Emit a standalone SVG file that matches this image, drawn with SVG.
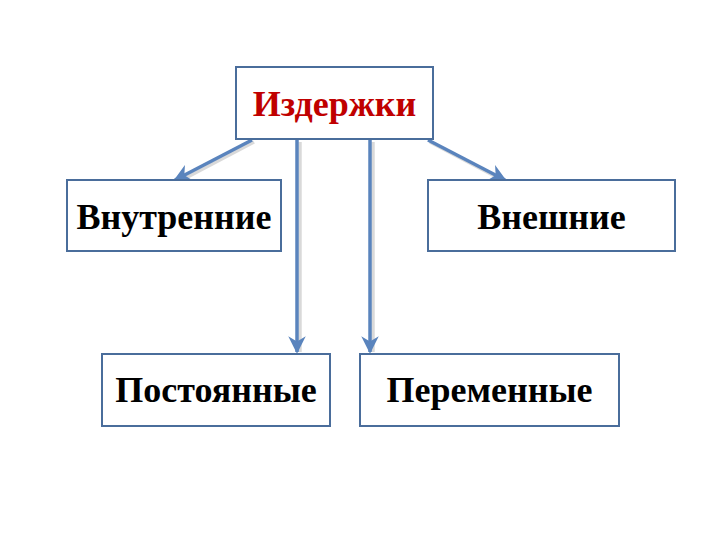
<svg xmlns="http://www.w3.org/2000/svg" width="720" height="540" viewBox="0 0 720 540">
<style>
.box{fill:#fff;stroke:#4a6d9b;stroke-width:2}
.t{font-family:"Liberation Serif","Times New Roman",serif;font-weight:bold;font-size:36px;text-anchor:middle;fill:#000}
.red{fill:#c00000}
.c{stroke:#5a84bd;stroke-width:3.5;fill:none;marker-end:url(#ah)}
.s{stroke:#bfbfbf;stroke-width:3.5;fill:none;opacity:0.6}
</style>
<defs>
<marker id="ah" viewBox="0 0 10 10" refX="9" refY="5" markerWidth="5" markerHeight="5" orient="auto" markerUnits="strokeWidth">
<path d="M0,0 L10,5 L0,10 L3,5 Z" fill="#5a84bd"/>
</marker>
</defs>
<g id="connectors">
<line class="s" x1="254" y1="142" x2="178" y2="182"/>
<line class="s" x1="300" y1="142" x2="300" y2="352"/>
<line class="s" x1="373" y1="142" x2="373" y2="352"/>
<line class="s" x1="430" y1="142" x2="506" y2="182"/>
<line class="c" x1="252" y1="140" x2="175" y2="180"/>
<line class="c" x1="297" y1="140" x2="297" y2="352"/>
<line class="c" x1="370" y1="140" x2="370" y2="352"/>
<line class="c" x1="428" y1="140" x2="505" y2="180"/>
</g>
<g id="izderzhki">
<rect class="box" x="236" y="67" width="197" height="72"/>
<text class="t red" x="334.5" y="116">Издержки</text>
</g>
<g id="vnutrennie">
<rect class="box" x="67" y="180" width="214" height="71"/>
<text class="t" x="174" y="229">Внутренние</text>
</g>
<g id="vneshnie">
<rect class="box" x="428" y="180" width="247" height="71"/>
<text class="t" x="551.5" y="229">Внешние</text>
</g>
<g id="postoyannye">
<rect class="box" x="102" y="354" width="228" height="72"/>
<text class="t" x="216" y="402">Постоянные</text>
</g>
<g id="peremennye">
<rect class="box" x="360" y="354" width="259" height="72"/>
<text class="t" x="489.5" y="402">Переменные</text>
</g>
</svg>
